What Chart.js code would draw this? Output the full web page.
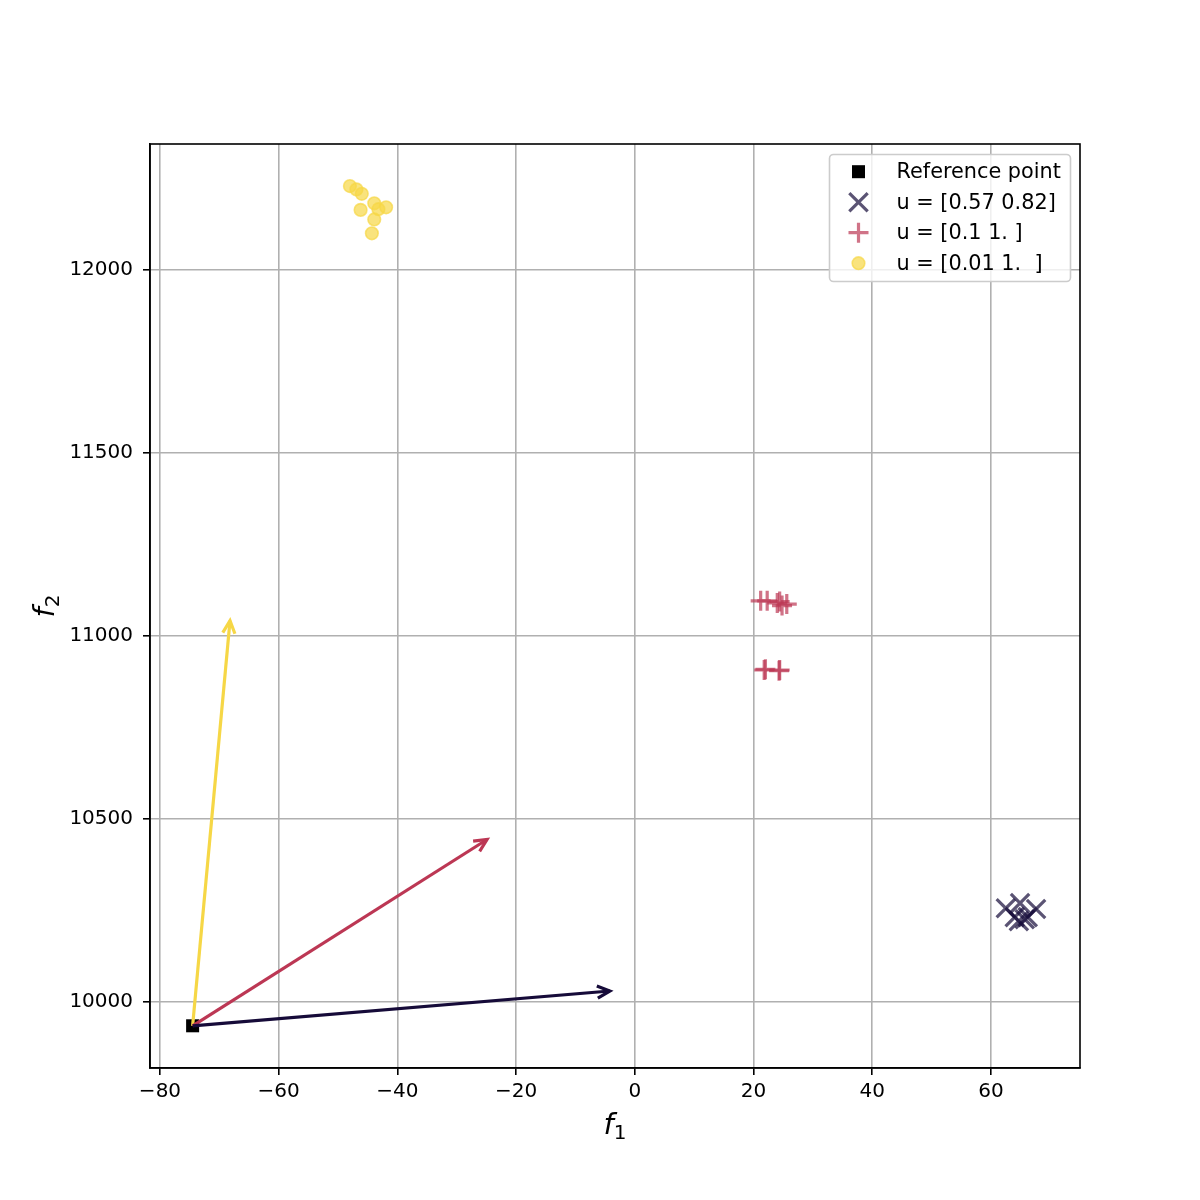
<!DOCTYPE html>
<html>
<head>
<meta charset="utf-8">
<script src="https://cdn.jsdelivr.net/npm/chart.js"></script>
<style>
  body { margin: 0; background: #fff; }
  #wrap { width: 1200px; height: 1200px; }
</style>
</head>
<body>
<div id="wrap"><canvas id="paretoChart" width="1200" height="1200"></canvas></div>
<script>
// Axis ticks
var xTicks = [-80, -60, -40, -20, 0, 20, 40, 60];
var yTicks = [10000, 10500, 11000, 11500, 12000];

// Axis labels: italic letter + subscript
var xLabel = ['f', '1'];
var yLabel = ['f', '2'];

// Reference point
var refX = -74.5;
var refY = 9935;

// Weight vectors: label + end point of the direction arrow
var weightLabels = ['u = [0.57 0.82]', 'u = [0.1 1. ]', 'u = [0.01 1.  ]'];
var arrowEndX = [-4.2, -24.9, -68.2];
var arrowEndY = [10030, 10444, 11042];

// Solutions found for each weight vector
var darkX = [62.5, 64.9, 67.6, 64.0, 64.7, 65.7, 66.2];
var darkY = [10256, 10270, 10254, 10232, 10221, 10226, 10232];
var redX = [21.2, 22.3, 24.4, 24.8, 25.6, 24.0, 21.8, 24.4, 22.0, 24.3];
var redY = [11096, 11096, 11094, 11083, 11087, 11090, 10907, 10907, 10909, 10905];
var yellowX = [-48.0, -46.9, -46.0, -43.9, -41.9, -46.2, -43.2, -43.9, -44.3];
var yellowY = [12229, 12220, 12208, 12182, 12171, 12164, 12166, 12138, 12100];

var seriesColors = ['22, 11, 57', '188, 55, 84', '246, 215, 70'];

function toPoints(xs, ys) {
    return xs.map(function (x, i) { return { x: x, y: ys[i] }; });
}

function minusSign(v) {
    return v < 0 ? '\u2212' + Math.abs(v) : String(v);
}

// small marker painter, used by the legend box
function drawMarker(ctx, style, x, y, r, fill, stroke, lw) {
    ctx.save();
    ctx.lineWidth = lw;
    ctx.strokeStyle = stroke;
    ctx.fillStyle = fill;
    ctx.beginPath();
    if (style === 'rect') {
        var s = r * Math.SQRT1_2;
        ctx.rect(x - s, y - s, 2 * s, 2 * s);
        ctx.fill();
    } else if (style === 'crossRot') {
        var d = r * Math.SQRT1_2;
        ctx.moveTo(x - d, y - d); ctx.lineTo(x + d, y + d);
        ctx.moveTo(x + d, y - d); ctx.lineTo(x - d, y + d);
        ctx.stroke();
    } else if (style === 'cross') {
        ctx.moveTo(x - r, y); ctx.lineTo(x + r, y);
        ctx.moveTo(x, y - r); ctx.lineTo(x, y + r);
        ctx.stroke();
    } else {
        ctx.arc(x, y, r, 0, Math.PI * 2);
        ctx.fill();
        ctx.stroke();
    }
    ctx.restore();
}

// math-style label: italic letter with a smaller upright subscript
function drawSubLabel(ctx, parts, cx, baseY, angle) {
    ctx.save();
    ctx.translate(cx, baseY);
    ctx.rotate(angle);
    ctx.fillStyle = '#000';
    ctx.textBaseline = 'alphabetic';
    ctx.font = 'italic 29px "DejaVu Sans"';
    var w1 = ctx.measureText(parts[0]).width;
    ctx.font = '20px "DejaVu Sans"';
    var w2 = ctx.measureText(parts[1]).width;
    var x0 = -(w1 + w2) / 2;
    ctx.font = 'italic 29px "DejaVu Sans"';
    ctx.fillText(parts[0], x0, 0);
    ctx.font = '20px "DejaVu Sans"';
    ctx.fillText(parts[1], x0 + w1, 5);
    ctx.restore();
}

// open arrow heads on the direction lines + frame + axis labels + legend box
var extrasPlugin = {
    id: 'extras',
    afterDatasetsDraw: function (chart) {
        var ctx = chart.ctx;
        chart.data.datasets.forEach(function (ds, i) {
            if (!ds.arrow) return;
            var pts = chart.getDatasetMeta(i).data;
            var a = pts[pts.length - 2], b = pts[pts.length - 1];
            var ang = Math.atan2(b.y - a.y, b.x - a.x);
            var len = 14, spread = 0.45;
            ctx.save();
            ctx.strokeStyle = ds.borderColor;
            ctx.lineWidth = ds.borderWidth;
            ctx.lineJoin = 'miter';
            ctx.beginPath();
            ctx.moveTo(b.x - len * Math.cos(ang - spread), b.y - len * Math.sin(ang - spread));
            ctx.lineTo(b.x, b.y);
            ctx.lineTo(b.x - len * Math.cos(ang + spread), b.y - len * Math.sin(ang + spread));
            ctx.stroke();
            ctx.restore();
        });
        var area = chart.chartArea;
        ctx.save();
        ctx.strokeStyle = '#000';
        ctx.lineWidth = 1.6;
        ctx.strokeRect(area.left, area.top, area.right - area.left, area.bottom - area.top);
        ctx.restore();
    },
    afterDraw: function (chart) {
        var ctx = chart.ctx;
        var area = chart.chartArea;
        drawSubLabel(ctx, xLabel, (area.left + area.right) / 2, 1134, 0);
        drawSubLabel(ctx, yLabel, 54, (area.top + area.bottom) / 2, -Math.PI / 2);

        var box = { x: 829.5, y: 154.5, w: 241, h: 127 };
        ctx.save();
        ctx.beginPath();
        if (ctx.roundRect) ctx.roundRect(box.x, box.y, box.w, box.h, 4);
        else ctx.rect(box.x, box.y, box.w, box.h);
        ctx.fillStyle = 'rgba(255,255,255,0.8)';
        ctx.fill();
        ctx.strokeStyle = '#cccccc';
        ctx.lineWidth = 1.6;
        ctx.stroke();
        ctx.font = '20.8px "DejaVu Sans"';
        ctx.textBaseline = 'middle';
        var rows = chart.data.datasets.filter(function (ds) { return ds.inLegend; });
        rows.forEach(function (ds, k) {
            var cy = 171.7 + k * 30.5;
            drawMarker(ctx, ds.pointStyle, 858.5, cy, ds.pointRadius,
                ds.backgroundColor, ds.borderColor, ds.pointBorderWidth);
            ctx.fillStyle = '#000';
            ctx.fillText(ds.label, 896.5, cy + 1);
        });
        ctx.restore();
    }
};

document.addEventListener('DOMContentLoaded', function () {
    Chart.defaults.font.family = '"DejaVu Sans", sans-serif';
    var ctx = document.getElementById('paretoChart').getContext('2d');

    var datasets = [];
    // direction arrows (drawn on top)
    arrowEndX.forEach(function (ex, i) {
        datasets.push({
            label: 'arrow ' + weightLabels[i],
            arrow: true,
            data: [{ x: refX, y: refY }, { x: ex, y: arrowEndY[i] }],
            showLine: true,
            borderColor: 'rgb(' + seriesColors[i] + ')',
            borderWidth: 3.2,
            pointRadius: 0,
            fill: false
        });
    });
    datasets.push({
        label: 'Reference point',
        inLegend: true,
        data: [{ x: refX, y: refY }],
        pointStyle: 'rect',
        pointRadius: 9.2,
        pointBorderWidth: 0,
        backgroundColor: '#000',
        borderColor: '#000'
    });
    var clouds = [
        { xs: darkX, ys: darkY, style: 'crossRot', r: 13, bw: 3.2 },
        { xs: redX, ys: redY, style: 'cross', r: 10, bw: 3.2 },
        { xs: yellowX, ys: yellowY, style: 'circle', r: 6.3, bw: 1.6 }
    ];
    clouds.forEach(function (c, i) {
        var col = 'rgba(' + seriesColors[i] + ', 0.7)';
        datasets.push({
            label: weightLabels[i],
            inLegend: true,
            data: toPoints(c.xs, c.ys),
            pointStyle: c.style,
            pointRadius: c.r,
            pointBorderWidth: c.bw,
            backgroundColor: col,
            borderColor: col
        });
    });

    var gridOpts = { color: '#b0b0b0', lineWidth: 1.6, tickColor: '#000', tickLength: 7, tickWidth: 1.6 };

    new Chart(ctx, {
        type: 'scatter',
        data: { datasets: datasets },
        plugins: [extrasPlugin],
        options: {
            responsive: false,
            animation: false,
            layout: { padding: { top: 144, right: 120, left: 0, bottom: 0 } },
            plugins: {
                legend: { display: false },
                tooltip: { enabled: false }
            },
            scales: {
                x: {
                    type: 'linear',
                    min: -81.68,
                    max: 75,
                    afterBuildTicks: function (scale) {
                        scale.ticks = xTicks.map(function (v) { return { value: v }; });
                    },
                    afterFit: function (scale) { scale.height = 132; },
                    grid: gridOpts,
                    border: { display: true, color: '#000', width: 1.6 },
                    ticks: {
                        color: '#000',
                        font: { size: 20 },
                        padding: 5,
                        maxRotation: 0,
                        callback: minusSign
                    }
                },
                y: {
                    type: 'linear',
                    min: 9819.7,
                    max: 12344,
                    afterBuildTicks: function (scale) {
                        scale.ticks = yTicks.map(function (v) { return { value: v }; });
                    },
                    afterFit: function (scale) { scale.width = 150; },
                    grid: gridOpts,
                    border: { display: true, color: '#000', width: 1.6 },
                    ticks: {
                        color: '#000',
                        font: { size: 20 },
                        padding: 10,
                        callback: minusSign
                    }
                }
            }
        }
    });
});
</script>
</body>
</html>
